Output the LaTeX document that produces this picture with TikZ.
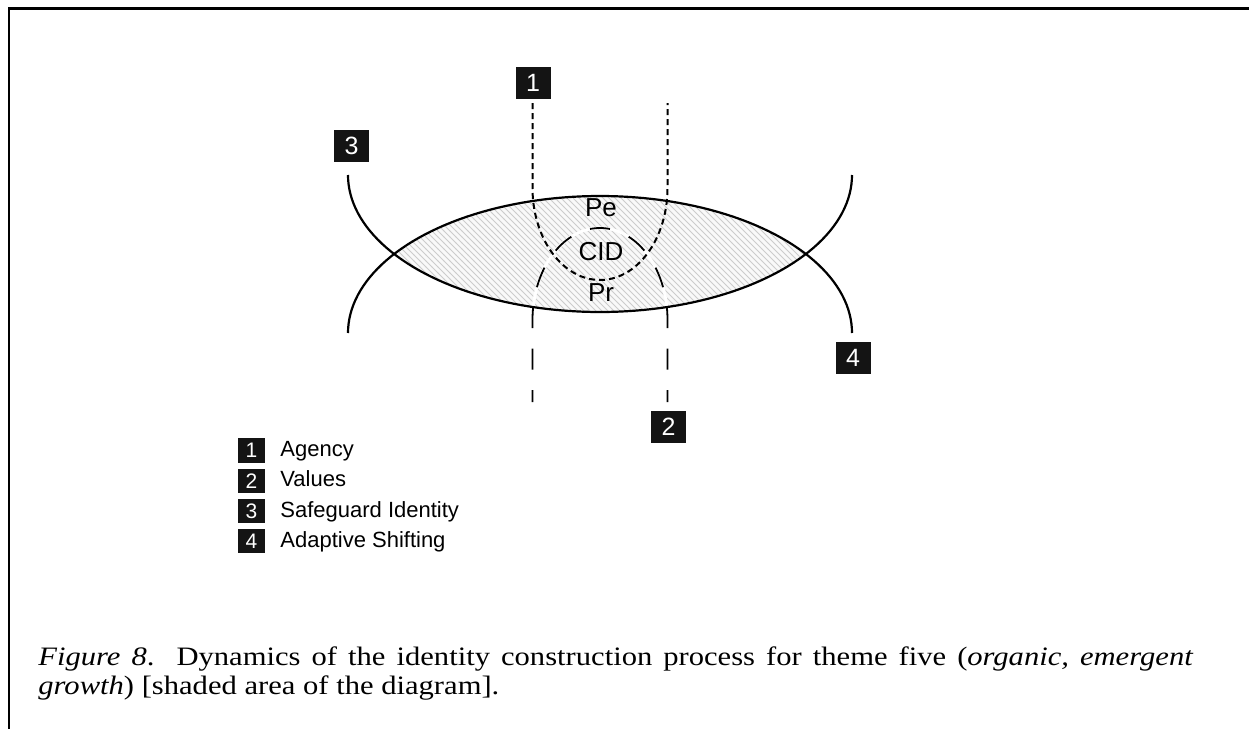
\documentclass[tikz,border=0pt]{standalone}
\usepackage{fontspec}
\setmainfont{Liberation Serif}
\setsansfont{Liberation Sans}
\newfontfamily\capfont[FakeStretch=1.15]{Liberation Serif}
\usetikzlibrary{patterns}

\begin{document}
\begin{tikzpicture}[x=0.5pt,y=-0.5pt,
    numbox/.style={fill=black!92,text=white,inner sep=0pt,
      minimum width=17.5pt,minimum height=16pt,
      font=\sffamily\fontsize{12.5}{12}\selectfont},
    keybox/.style={numbox,minimum width=13.5pt,minimum height=12.2pt,
      font=\sffamily\fontsize{10.5}{10}\selectfont},
    keytext/.style={anchor=base west,inner sep=0pt,
      font=\sffamily\fontsize{11}{13}\selectfont},
    zone/.style={anchor=base,inner sep=0pt,
      font=\sffamily\fontsize{13}{14}\selectfont},
    arcline/.style={line width=1.1pt},
    agencyline/.style={line width=1pt,dash pattern=on 3pt off 2pt},
    valueline/.style={line width=0.9pt,dash pattern=on 10.5pt off 10.2pt,dash phase=4.5pt}]
  \useasboundingbox (0,0) rectangle (1249,729);
  \draw[line width=1.35pt] (9,729) -- (9,8.7) -- (1249,8.7);
  \begin{scope}
    \clip plot[domain=0:180,samples=91] ({600+252*cos(\x)},{175+137*sin(\x)}) -- cycle;
    \fill[gray!5] plot[domain=0:180,samples=91] ({600+252*cos(\x)},{333-137*sin(\x)}) -- cycle;
    \fill[pattern=north west lines,pattern color=gray!40]
      plot[domain=0:180,samples=91] ({600+252*cos(\x)},{333-137*sin(\x)}) -- cycle;
  \end{scope}
  \foreach \s in {-1,1}
    \draw[white,line width=1.4pt] ({600+67.5*\s},402) -- plot[domain=0:90,samples=46] ({600+\s*67.5*cos(\x)},{320-92*sin(\x)});
  \draw[arcline] plot[domain=0:180,samples=91] ({600+252*cos(\x)},{175+137*sin(\x)});
  \draw[arcline] plot[domain=0:180,samples=91] ({600+252*cos(\x)},{333-137*sin(\x)});
  \draw[agencyline] (532.5,103) -- plot[domain=0:180,samples=91] ({600-67.5*cos(\x)},{188+92*sin(\x)}) -- (667.5,103);
  \foreach \s in {-1,1}
    \draw[valueline] ({600+67.5*\s},402) -- plot[domain=0:90,samples=46] ({600+\s*67.5*cos(\x)},{320-92*sin(\x)});
  \node[zone] (pe) at (601,216) {Pe};
  \node[zone] (cid) at (601,260) {CID};
  \node[zone] (pr) at (601,301.7) {Pr};
  \node[numbox] (agency) at (533,83) {1};
  \node[numbox] (values) at (668.5,427) {2};
  \node[numbox] (safeguard) at (351.5,145.5) {3};
  \node[numbox] (shifting) at (853,357.5) {4};
  \foreach \n/\t in {1/Agency,2/Values,3/Safeguard Identity,4/Adaptive Shifting}
  {
    \node[keybox] (key\n) at (251.5,{450.5+30.2*(\n-1)}) {\n};
    \node[keytext] (keytext\n) at (280,{456.7+30.2*(\n-1)}) {\t};
  }
  \node[anchor=base west,inner sep=0pt,text width=577.5pt,align=justify,
    font=\capfont\fontsize{13.3}{14.5}\selectfont] (caption) at (38,665)
    {\frenchspacing\textit{Figure 8}.\ \ Dynamics of the identity construction process for theme five (\textit{organic, emergent}\linebreak
    \textit{growth}) [shaded area of the diagram].};
\end{tikzpicture}
\end{document}
